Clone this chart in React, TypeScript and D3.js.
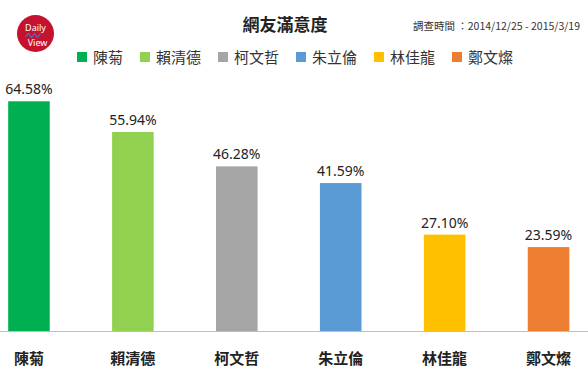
import { useRef, useEffect } from "react";
import * as d3 from "d3";

const names = ["陳菊", "賴清德", "柯文哲", "朱立倫", "林佳龍", "鄭文燦"];
const values = [64.58, 55.94, 46.28, 41.59, 27.1, 23.59];
const colors = ["#00b050", "#92d050", "#a5a5a5", "#5b9bd5", "#ffc000", "#ed7d31"];

const W = 588;
const H = 375;
const CJK = "'Noto Sans CJK TC', 'Noto Sans', sans-serif";
const NUM = "'Noto Sans', 'Open Sans', sans-serif";

const App = () => {
  const ref = useRef<SVGSVGElement | null>(null);

  useEffect(() => {
    const svg = d3.select(ref.current);
    svg.selectAll("*").remove();

    svg.append("rect").attr("width", W).attr("height", H).attr("fill", "#fff");

    const x = d3
      .scaleBand<string>()
      .domain(names)
      .range([-23, 600.5])
      .paddingInner(0.6)
      .paddingOuter(0.3);

    const y = d3.scaleLinear().domain([0, 70]).range([331, 82]);

    const rows = names.map((name, i) => ({ name, value: values[i], color: colors[i] }));

    // bars
    svg
      .selectAll("rect.bar")
      .data(rows)
      .enter()
      .append("rect")
      .attr("class", "bar")
      .attr("x", (d) => x(d.name) as number)
      .attr("width", x.bandwidth())
      .attr("y", (d) => y(d.value))
      .attr("height", (d) => y(0) - y(d.value))
      .attr("fill", (d) => d.color);

    // value labels
    svg
      .selectAll("text.val")
      .data(rows)
      .enter()
      .append("text")
      .attr("class", "val")
      .attr("x", (d) => (x(d.name) as number) + x.bandwidth() / 2)
      .attr("y", (d) => y(d.value) - 7)
      .attr("text-anchor", "middle")
      .attr("font-family", NUM)
      .attr("font-size", 14)
      .attr("fill", "#222")
      .text((d) => d.value.toFixed(2) + "%");

    // baseline
    svg
      .append("line")
      .attr("x1", 0)
      .attr("x2", W)
      .attr("y1", y(0) + 0.5)
      .attr("y2", y(0) + 0.5)
      .attr("stroke", "#bfbfbf")
      .attr("stroke-width", 1);

    // category labels
    svg
      .selectAll("text.cat")
      .data(rows)
      .enter()
      .append("text")
      .attr("class", "cat")
      .attr("x", (d) => (x(d.name) as number) + x.bandwidth() / 2)
      .attr("y", 364)
      .attr("text-anchor", "middle")
      .attr("font-family", CJK)
      .attr("font-weight", "bold")
      .attr("font-size", 15)
      .attr("fill", "#222")
      .text((d) => d.name);

    // title + date
    svg
      .append("text")
      .attr("x", 285)
      .attr("y", 31)
      .attr("text-anchor", "middle")
      .attr("font-family", CJK)
      .attr("font-weight", "bold")
      .attr("font-size", 17)
      .attr("fill", "#222")
      .text("網友滿意度");

    svg
      .append("text")
      .attr("x", 580)
      .attr("y", 30)
      .attr("text-anchor", "end")
      .attr("font-family", CJK)
      .attr("font-size", 10.5)
      .attr("fill", "#333")
      .text("調查時間 ：2014/12/25 - 2015/3/19");

    // legend
    let lx = 77;
    const legend = svg.append("g");
    rows.forEach((d) => {
      legend
        .append("rect")
        .attr("x", lx)
        .attr("y", 52)
        .attr("width", 10)
        .attr("height", 10)
        .attr("fill", d.color);
      legend
        .append("text")
        .attr("x", lx + 16)
        .attr("y", 62.5)
        .attr("font-family", CJK)
        .attr("font-size", 15)
        .attr("fill", "#333")
        .text(d.name);
      lx += 10 + 6 + 15 * d.name.length + 17;
    });

    // logo
    const logo = svg.append("g").attr("transform", "translate(35.5,33.5)");
    logo.append("circle").attr("r", 18.5).attr("fill", "#c4122f");
    logo
      .append("text")
      .attr("y", -3)
      .attr("text-anchor", "middle")
      .attr("font-family", NUM)
      .attr("font-size", 9)
      .attr("fill", "#fff")
      .text("Daily");
    logo
      .append("text")
      .attr("x", 2)
      .attr("y", 12)
      .attr("text-anchor", "middle")
      .attr("font-family", NUM)
      .attr("font-size", 9)
      .attr("fill", "#fff")
      .text("View");
    logo
      .append("path")
      .attr("d", "M-10,3 L-7,0 L-4,4 L-1,0 L2,4 L5,0")
      .attr("fill", "none")
      .attr("stroke", "#4a6fd0")
      .attr("stroke-width", 1.2);
  }, []);

  return (
    <svg
      ref={ref}
      width={W}
      height={H}
      style={{ position: "absolute", left: 0, top: 0 }}
    />
  );
};

export default App;
